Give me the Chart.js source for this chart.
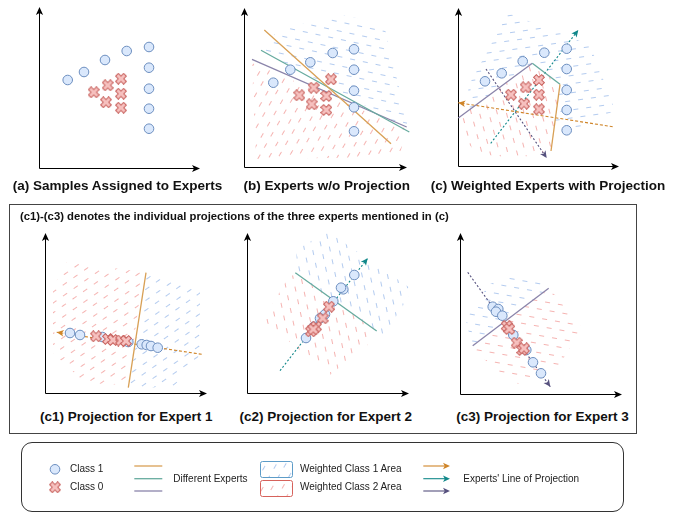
<!DOCTYPE html>
<html><head><meta charset="utf-8">
<script src="https://cdn.jsdelivr.net/npm/chart.js@4"></script>
<style>
html,body{margin:0;padding:0;background:#fff;}
body{width:689px;height:512px;position:relative;overflow:hidden;font-family:"Liberation Sans",Arial,sans-serif;}
.t{position:absolute;white-space:nowrap;font-weight:bold;font-size:13.5px;line-height:16px;color:#111;transform:translateX(-50%);}
canvas{position:absolute;}
.lg{position:absolute;white-space:nowrap;font-size:10px;line-height:12px;color:#222;}
#box{position:absolute;left:9px;top:204px;width:626px;height:228px;border:1px solid #444;}
#lbox{position:absolute;left:21px;top:442px;width:601px;height:68px;border:1px solid #333;border-radius:11px;}
#sub{position:absolute;left:20px;top:209px;white-space:nowrap;font-weight:bold;font-size:11.3px;line-height:14px;color:#111;}
</style></head><body>
<div id="box"></div>
<div id="lbox"></div>
<canvas id="ca"></canvas><canvas id="cb"></canvas><canvas id="cc"></canvas>
<canvas id="cc1"></canvas><canvas id="cc2"></canvas><canvas id="cc3"></canvas>
<canvas id="legendCv" width="689" height="72" style="left:0;top:440px"></canvas>
<div class="t" style="left:117.5px;top:178px">(a) Samples Assigned to Experts</div>
<div class="t" style="left:326.7px;top:178px">(b) Experts w/o Projection</div>
<div class="t" style="left:548px;top:178px">(c) Weighted Experts with Projection</div>
<div id="sub">(c1)-(c3) denotes the individual projections of the three experts mentioned in (c)</div>
<div class="t" style="left:126.3px;top:408.7px">(c1) Projection for Expert 1</div>
<div class="t" style="left:325.7px;top:408.7px">(c2) Projection for Expert 2</div>
<div class="t" style="left:542.5px;top:408.7px">(c3) Projection for Expert 3</div>
<div class="lg" style="left:70px;top:463px">Class 1</div>
<div class="lg" style="left:70px;top:481px">Class 0</div>
<div class="lg" style="left:173.3px;top:472.5px">Different Experts</div>
<div class="lg" style="left:300px;top:463px">Weighted Class 1 Area</div>
<div class="lg" style="left:300px;top:481px">Weighted Class 2 Area</div>
<div class="lg" style="left:463.3px;top:472.5px">Experts' Line of Projection</div>
<script>
// ---------- data (local axis units, origin at each panel's axis corner) ----------
const aClass1 = [[28.7,88],[45,96],[66,108],[87.7,117],[110,121],[110,100.3],[110,79.3],[110,59.3],[110,39.3]];
const aClass0 = [[82,89.3],[68.7,82.7],[54.7,75.7],[82,74.3],[67,65.7],[82,60.3]];

const bClass1 = [[29.3,84.3],[46.3,97.3],[66.3,104.7],[88.7,114],[110,117.7],[110,97.3],[110,76.3],[110,59.7],[110,35.7]];
const bClass0 = [[87,87.7],[69.7,79.3],[55.3,71.7],[82.3,71],[67.7,62.7],[82.3,57]];
const bExpert1 = [[20.3,137],[147,23.3]];
const bExpert2 = [[17,116.7],[165.3,35]];
const bExpert3 = [[8,107.7],[162.7,40]];
const bArea1 = [[17,117],[35,138],[100,152],[140,142],[165,38]];
const bArea2 = [[8,104],[163,38],[155,10],[12,8]];

const cClass1 = [[27,84.7],[43.7,92.7],[64.7,104.7],[86.3,113.3],[108.7,117.3],[108.7,97],[108.7,76],[108.7,56],[108.7,35.7]];
const cClass0 = [[81,86],[67.7,78.7],[53,71.3],[81,71.3],[66,62.3],[81,56.7]];
const cExpert3 = [[0.3,48],[74.3,102.7]];
const cExpert2 = [[74.3,102.7],[102,81.7]];
const cExpert1 = [[102,81.7],[93,15]];
const cProj1 = [[154.7,39.3],[0.3,63.3]];
const cProj2 = [[32.7,22.7],[120.3,136]];
const cProj3 = [[28,97],[88.7,8]];
const cArea1 = [[10,79],[50,153],[132,121],[157,56],[120,36],[96,38],[102,82],[74,103],[12,56]];
const cArea2 = [[3,50],[74,103],[102,82],[93,15],[60,8],[20,12],[3,30]];

const c1Class1 = [[25,60],[35,58],[57.3,56],[83.3,51],[96.7,48.7],[101.7,48],[106,47],[112.7,45.3]];
const c1Class0 = [[51,56.7],[63,54],[68,53],[76,52.5],[81,52]];
const c1Expert1 = [[101,120.3],[83.3,5.3]];
const c1Proj1 = [[156.7,38.7],[11.7,60.7]];
const c1Area1 = [[101,118],[155,106],[155,36],[128,6],[84,5]];
const c1Area2 = [[22,131],[98,121],[83,8],[40,10],[8,40],[8,105]];

const c2Class1 = [[107.3,118],[96.3,103.7],[94,105.3],[86.3,91.7],[78,78.7],[73,74.7],[67,66.3],[59,55]];
const c2Class0 = [[82,86.3],[75.7,74.7],[69,66.3],[64,61.7],[66.3,63.7]];
const c2Expert2 = [[48.3,120.3],[129.7,62]];
const c2Proj2 = [[33,22.3],[120.7,134.7]];
const c2Area1 = [[48,120],[50,143],[80,162],[166,103],[137,58],[130,62]];
const c2Area2 = [[48,120],[130,62],[123,50],[83,18],[16,73],[38,110]];

const c3Class1 = [[32.7,87.3],[38.3,85],[36,82.3],[42.3,78.3],[53.3,59],[66.3,44],[73,31.7],[81,20.7]];
const c3Class0 = [[46.7,68],[49.3,65],[56.7,51.3],[62.3,44],[64,45.7]];
const c3Expert3 = [[12.7,48.3],[88.7,105.7]];
const c3Proj3 = [[7.7,121.7],[90.3,7.3]];
const c3Area1 = [[12,48],[5,78],[30,110],[65,123],[89,106]];
const c3Area2 = [[89,106],[122,66],[100,30],[55,9],[18,40],[12,48]];

// ---------- styles ----------
const COL = {orange:'#d8a055', teal:'#67ab9f', purple:'#8a84aa',
  orangeP:'#cf8529', tealP:'#11888a', purpleP:'#56517e',
  blueDash:'#b3cbef', redDash:'#f5b3b1'};

function makeHatch(color, angle){
  const sx=13, sy=8.5, len=5;
  const t=document.createElement('canvas'); t.width=sx; t.height=Math.round(sy*2);
  const g=t.getContext('2d'); g.strokeStyle=color; g.lineWidth=1;
  const y1=Math.round(sy/2)+0.5, y2=Math.round(sy*1.5)+0.5;
  g.beginPath(); g.moveTo(1,y1); g.lineTo(1+len,y1);
  g.moveTo(1+Math.round(sx/2),y2); g.lineTo(1+Math.round(sx/2)+len,y2);
  g.stroke();
  const p=document.createElement('canvas').getContext('2d').createPattern(t,'repeat');
  p.setTransform(new DOMMatrix().rotate(angle));
  return p;
}
function makeCross(size){
  const c=document.createElement('canvas'); c.width=c.height=size;
  const g=c.getContext('2d'); g.translate(size/2,size/2); g.rotate(Math.PI/4);
  const L=size*0.47, a=size*0.16;
  const v=[[a,-L],[a,-a],[L,-a],[L,a],[a,a],[a,L],[-a,L],[-a,a],[-L,a],[-L,-a],[-a,-a],[-a,-L]];
  g.beginPath(); v.forEach((q,i)=>i?g.lineTo(q[0],q[1]):g.moveTo(q[0],q[1])); g.closePath();
  g.fillStyle='#f6c0be'; g.fill(); g.strokeStyle='#c8625e'; g.lineWidth=1; g.stroke();
  return c;
}
const CROSS = makeCross(12);
const pts = arr => arr.map(([x,y])=>({x,y}));
const circles = arr => ({data:pts(arr), showLine:false, pointRadius:4.8, pointBackgroundColor:'#dae8fc', pointBorderColor:'#6c8ebf', pointBorderWidth:1, order:1, clip:false});
const crosses = arr => ({data:pts(arr), showLine:false, pointStyle:CROSS, pointRadius:5, order:0, clip:false});
const seg = (arr,color) => ({data:pts(arr), borderColor:color, borderWidth:1.3, pointRadius:0, fill:false, order:2, clip:false});
const proj = (arr,color,dash) => ({data:pts(arr), borderColor:color, borderWidth:1.1, borderDash:dash, pointRadius:0, fill:false, arrow:true, order:2, clip:false});
const area = (arr,pat) => ({data:pts([...arr,arr[0]]), borderWidth:0, borderColor:'rgba(0,0,0,0)', backgroundColor:pat, fill:'shape', pointRadius:0, order:5, clip:false});

function head(ctx,x0,y0,x1,y1,color,len,hw){
  const ang=Math.atan2(y1-y0,x1-x0);
  ctx.save(); ctx.translate(x1,y1); ctx.rotate(ang);
  ctx.beginPath(); ctx.moveTo(0,0); ctx.lineTo(-len,-hw); ctx.lineTo(-len*0.75,0); ctx.lineTo(-len,hw); ctx.closePath();
  ctx.fillStyle=color; ctx.fill(); ctx.restore();
}
const axesPlugin = {id:'axesArrows', beforeDatasetsDraw(chart){
  const {ctx, chartArea:a} = chart;
  ctx.save(); ctx.strokeStyle='#000'; ctx.lineWidth=1;
  ctx.beginPath(); ctx.moveTo(a.left+0.5,a.bottom+0.5); ctx.lineTo(a.left+0.5,a.top+4);
  ctx.moveTo(a.left+0.5,a.bottom+0.5); ctx.lineTo(a.right-4,a.bottom+0.5); ctx.stroke();
  head(ctx,a.left+0.5,a.bottom,a.left+0.5,a.top,'#000',8,3.6);
  head(ctx,a.left,a.bottom+0.5,a.right,a.bottom+0.5,'#000',8,3.6);
  ctx.restore();
}};
const arrowPlugin = {id:'projArrows', afterDatasetsDraw(chart){
  const ctx=chart.ctx;
  chart.data.datasets.forEach((ds,i)=>{
    if(!ds.arrow) return;
    const d=chart.getDatasetMeta(i).data; const p=d[d.length-2], q=d[d.length-1];
    head(ctx,p.x,p.y,q.x,q.y,ds.borderColor,7,3.3);
  });
}};
const PAD=14;
function panel(id, L, T, W, H, datasets){
  const cv=document.getElementById(id);
  cv.width=W+2*PAD; cv.height=H+2*PAD;
  cv.style.left=(L-PAD)+'px'; cv.style.top=(T-PAD)+'px';
  new Chart(cv,{type:'line', data:{datasets},
    options:{responsive:false, animation:false, events:[], layout:{padding:PAD},
      plugins:{legend:{display:false}, tooltip:{enabled:false}},
      elements:{line:{tension:0}},
      scales:{x:{type:'linear',display:false,min:0,max:W}, y:{type:'linear',display:false,min:0,max:H}}},
    plugins:[axesPlugin, arrowPlugin]});
}

panel('ca',39,7,161,161,[crosses(aClass0),circles(aClass1)]);
panel('cb',244,8,163,159,[crosses(bClass0),circles(bClass1),
  seg(bExpert1,COL.orange),seg(bExpert2,COL.teal),seg(bExpert3,COL.purple),
  area(bArea1,makeHatch(COL.blueDash,12)),area(bArea2,makeHatch(COL.redDash,-60))]);
panel('cc',458,8,161,158,[crosses(cClass0),circles(cClass1),
  seg(cExpert1,COL.orange),seg(cExpert2,COL.teal),seg(cExpert3,COL.purple),
  proj(cProj1,COL.orangeP,[3,2]),proj(cProj2,COL.tealP,[2,2]),proj(cProj3,COL.purpleP,[2,2]),
  area(cArea1,makeHatch(COL.blueDash,-8)),area(cArea2,makeHatch(COL.redDash,75))]);
panel('cc1',45,233,162,160,[crosses(c1Class0),circles(c1Class1),
  seg(c1Expert1,COL.orange),proj(c1Proj1,COL.orangeP,[3,2]),
  area(c1Area1,makeHatch(COL.blueDash,-35)),area(c1Area2,makeHatch(COL.redDash,-35))]);
panel('cc2',247,233,162,160,[crosses(c2Class0),circles(c2Class1),
  seg(c2Expert2,COL.teal),proj(c2Proj2,COL.tealP,[2,2]),
  area(c2Area1,makeHatch(COL.blueDash,78)),area(c2Area2,makeHatch(COL.redDash,78))]);
panel('cc3',460,233,162,161,[crosses(c3Class0),circles(c3Class1),
  seg(c3Expert3,COL.purple),proj(c3Proj3,COL.purpleP,[2,2]),
  area(c3Area1,makeHatch(COL.blueDash,10)),area(c3Area2,makeHatch(COL.redDash,10))]);

// ---------- legend glyphs ----------
(function(){
  const g=document.getElementById('legendCv').getContext('2d'); const oy=440;
  g.beginPath(); g.arc(55,469.3-oy,4.8,0,2*Math.PI); g.fillStyle='#dae8fc'; g.fill(); g.strokeStyle='#6c8ebf'; g.lineWidth=1; g.stroke();
  g.drawImage(CROSS,55-6,487.3-oy-6);
  [[466,COL.orange],[478.7,COL.teal],[491,COL.purple]].forEach(([y,c])=>{
    g.beginPath(); g.moveTo(134.3,y-oy); g.lineTo(162.3,y-oy); g.strokeStyle=c; g.lineWidth=1.3; g.stroke();
  });
  function rr(x,y,w,h,r){g.beginPath(); g.roundRect(x,y,w,h,r);}
  rr(260.5,461.5-oy,32,16,2); g.fillStyle=makeHatch(COL.blueDash,-60); g.fill(); g.strokeStyle='#5d9cc8'; g.lineWidth=1; g.stroke();
  rr(260.5,480.5-oy,32,16,2); g.fillStyle=makeHatch(COL.redDash,-60); g.fill(); g.strokeStyle='#d6625c'; g.stroke();
  [[466,COL.orangeP],[478.7,COL.tealP],[491,COL.purpleP]].forEach(([y,c])=>{
    g.beginPath(); g.moveTo(423.3,y-oy); g.lineTo(446,y-oy); g.strokeStyle=c; g.lineWidth=1.1; g.stroke();
    head(g,423.3,y-oy,450,y-oy,c,7,3.3);
  });
})();
</script>
</body></html>
